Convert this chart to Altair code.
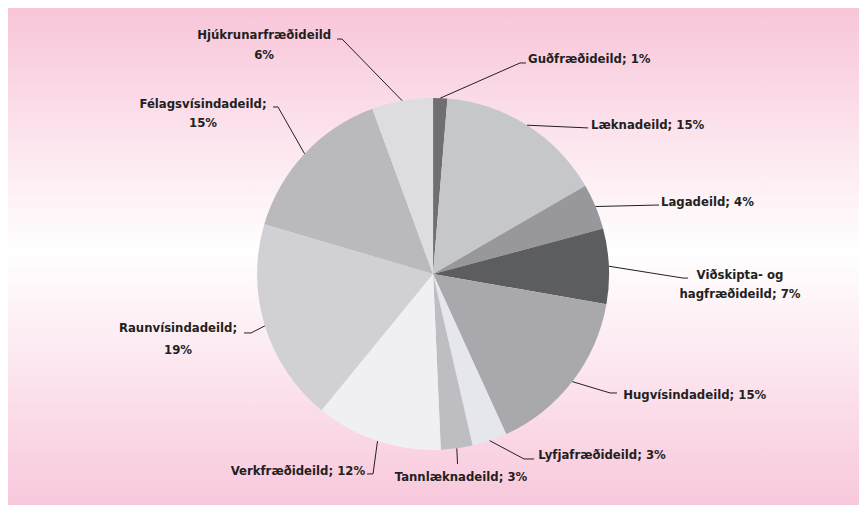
import math
import altair as alt
import pandas as pd

# ---------------- data ----------------
depts = [
    "Guðfræðideild",
    "Læknadeild",
    "Lagadeild",
    "Viðskipta- og hagfræðideild",
    "Hugvísindadeild",
    "Lyfjafræðideild",
    "Tannlæknadeild",
    "Verkfræðideild",
    "Raunvísindadeild",
    "Félagsvísindadeild",
    "Hjúkrunarfræðideild",
]
shares = [1.3, 15.3, 4.2, 6.9, 15.4, 3.2, 2.9, 11.6, 18.6, 14.8, 5.6]

# ---------------- styles ----------------
slice_colors = [
    "#6e6e73", "#c6c7cb", "#98979c", "#5c5d60", "#a9a8ac", "#e6e7ec",
    "#bdbdc2", "#efeff4", "#d0d0d5", "#b9b9be", "#dcdce1",
]
FONT = "DejaVu Sans Condensed"
TEXT_COLOR = "#231f20"

# ---------------- layout (units = pie radius, origin = pie centre) ----------------
W, H = 851, 497
R_PX = 176
X_DOMAIN = [-2.415, 2.420]
Y_DOMAIN = [-1.3125, 1.5114]

# label templates / leader-line bend points / text anchors
label_layout = {
    "Guðfræðideild": dict(tpl=["{name}; {pct}"], bend=[(0.494, 1.199), (0.528, 1.199)],
                          tx=0.540, ty=[1.219], align="left"),
    "Læknadeild": dict(tpl=["{name}; {pct}"], bend=[(0.881, 0.830)],
                       tx=0.898, ty=[0.847], align="left"),
    "Lagadeild": dict(tpl=["{name}; {pct}"], bend=[(1.284, 0.392)],
                      tx=1.295, ty=[0.409], align="left"),
    "Viðskipta- og hagfræðideild": dict(tpl=["{a}", "{b}; {pct}"],
                                        bend=[(1.420, -0.023), (1.449, -0.023)],
                                        tx=1.744, ty=[-0.006, -0.114], align="center"),
    "Hugvísindadeild": dict(tpl=["{name}; {pct}"], bend=[(1.006, -0.676), (1.045, -0.676)],
                            tx=1.080, ty=[-0.688], align="left"),
    "Lyfjafræðideild": dict(tpl=["{name}; {pct}"], bend=[(0.517, -1.051), (0.574, -1.051)],
                            tx=0.597, ty=[-1.028], align="left"),
    "Tannlæknadeild": dict(tpl=["{name}; {pct}"], bend=[(0.139, -1.080)],
                           tx=0.159, ty=[-1.153], align="center"),
    "Verkfræðideild": dict(tpl=["{name}; {pct}"], bend=[(-0.341, -1.136), (-0.375, -1.136)],
                           tx=-0.386, ty=[-1.119], align="right"),
    "Raunvísindadeild": dict(tpl=["{name};", "{pct}"], bend=[(-1.034, -0.335), (-1.074, -0.335)],
                             tx=-1.449, ty=[-0.307, -0.432], align="center"),
    "Félagsvísindadeild": dict(tpl=["{name};", "{pct}"], bend=[(-0.881, 0.949), (-0.909, 0.949)],
                               tx=-1.307, ty=[0.966, 0.858], align="center"),
    "Hjúkrunarfræðideild": dict(tpl=["{name}", "{pct}"], bend=[(-0.517, 1.335), (-0.545, 1.335)],
                                tx=-0.960, ty=[1.358, 1.244], align="center"),
}

# ---------------- build tables ----------------
total = sum(shares)
slice_rows, line_rows, text_rows = [], [], []
cum = 0.0
for i, (d, s) in enumerate(zip(depts, shares)):
    start, end = cum, cum + s
    cum = end
    slice_rows.append(dict(dept=d, start=start, end=end, idx=i, cx=0.0, cy=0.0))
    mid = (start + end) / 2 / total * 2 * math.pi
    lay = label_layout[d]
    pts = [(math.sin(mid), math.cos(mid))] + lay["bend"]
    for k, (px, py) in enumerate(pts):
        line_rows.append(dict(dept=d, step=k, x=px, y=py))
    pct = f"{round(s)}%"
    parts = d.rsplit(" ", 1)
    for j, t in enumerate(lay["tpl"]):
        txt = t.format(name=d, pct=pct, a=parts[0], b=parts[-1])
        text_rows.append(dict(text=txt, x=lay["tx"], y=lay["ty"][j], align=lay["align"]))

slices = pd.DataFrame(slice_rows)
lines = pd.DataFrame(line_rows)
texts = pd.DataFrame(text_rows)
frame = pd.DataFrame([dict(x0=X_DOMAIN[0], x1=X_DOMAIN[1], y0=Y_DOMAIN[0], y1=Y_DOMAIN[1])])

xs = alt.Scale(domain=X_DOMAIN, nice=False, zero=False)
ys = alt.Scale(domain=Y_DOMAIN, nice=False, zero=False)

bg = alt.LinearGradient(
    gradient="linear", x1=0, y1=0, x2=0, y2=1,
    stops=[
        alt.GradientStop(color="#f8c5d9", offset=0),
        alt.GradientStop(color="#ffffff", offset=0.49),
        alt.GradientStop(color="#f8c8dc", offset=1),
    ],
)

background = alt.Chart(frame).mark_rect(color=bg, strokeWidth=0).encode(
    x=alt.X("x0:Q", scale=xs, axis=None),
    x2="x1:Q",
    y=alt.Y("y0:Q", scale=ys, axis=None),
    y2="y1:Q",
)

pie = alt.Chart(slices).mark_arc(outerRadius=R_PX, strokeWidth=0).encode(
    theta=alt.Theta("start:Q", stack=None,
                    scale=alt.Scale(domain=[0, total], range=[0, 2 * math.pi])),
    theta2="end:Q",
    x=alt.X("cx:Q", scale=xs, axis=None),
    y=alt.Y("cy:Q", scale=ys, axis=None),
    color=alt.Color("dept:N", scale=alt.Scale(domain=depts, range=slice_colors), legend=None),
    order=alt.Order("idx:Q"),
)

leaders = alt.Chart(lines).mark_line(color=TEXT_COLOR, strokeWidth=1).encode(
    x=alt.X("x:Q", scale=xs, axis=None),
    y=alt.Y("y:Q", scale=ys, axis=None),
    detail="dept:N",
    order="step:Q",
)

def text_layer(al):
    return alt.Chart(texts).transform_filter(alt.datum.align == al).mark_text(
        align=al, baseline="middle", font=FONT, fontWeight="bold",
        fontSize=13, color=TEXT_COLOR,
    ).encode(
        x=alt.X("x:Q", scale=xs, axis=None),
        y=alt.Y("y:Q", scale=ys, axis=None),
        text="text:N",
    )

chart = alt.layer(
    background, pie, leaders, text_layer("left"), text_layer("center"), text_layer("right")
).properties(
    width=W, height=H, padding=0, autosize=alt.AutoSizeParams(type="none"),
).configure_view(stroke=None)

chart.save("out.html", embed_options={"renderer": "svg", "actions": False})
